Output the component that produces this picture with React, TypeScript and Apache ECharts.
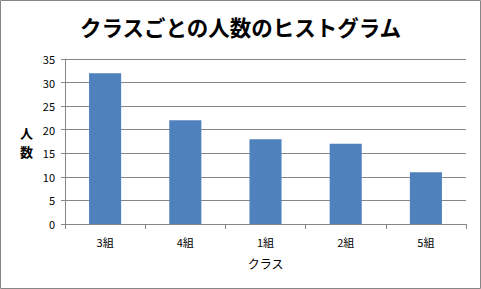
import React, { useEffect, useRef } from "react";
import * as echarts from "echarts";

const categories = ["3組", "4組", "1組", "2組", "5組"];
const counts = [32, 22, 18, 17, 11];
const titleText = "クラスごとの人数のヒストグラム";
const xAxisName = "クラス";
const yAxisName = "人\n数";

export default function App() {
  const ref = useRef<HTMLDivElement>(null);
  useEffect(() => {
    document.body.style.margin = "0";
    const chart = echarts.init(ref.current!, null, { renderer: "svg" });
    const font = "'Noto Sans CJK JP', sans-serif";
    chart.setOption({
      animation: false,
      backgroundColor: "#ffffff",
      textStyle: { fontFamily: font },
      title: {
        text: titleText,
        left: "center",
        top: 11,
        textStyle: { fontSize: 21.5, fontWeight: "bold", color: "#000", fontFamily: font },
      },
      graphic: [
        {
          type: "rect",
          shape: { x: 0.5, y: 0.5, width: 480, height: 288 },
          style: { fill: "none", stroke: "#868686", lineWidth: 1 },
          silent: true,
        },
      ],
      grid: { left: 65, right: 15, top: 59, bottom: 65 },
      xAxis: {
        type: "category",
        data: categories,
        name: xAxisName,
        nameLocation: "middle",
        nameGap: 33,
        nameTextStyle: { fontSize: 12, color: "#000" },
        axisLine: { lineStyle: { color: "#868686" } },
        axisTick: { show: true, length: 5, lineStyle: { color: "#868686" } },
        axisLabel: { fontSize: 11, color: "#000", margin: 12 },
      },
      yAxis: {
        type: "value",
        min: 0,
        max: 35,
        interval: 5,
        name: yAxisName,
        nameLocation: "middle",
        nameRotate: 0,
        nameGap: 32,
        nameTextStyle: { fontSize: 13, fontWeight: "bold", color: "#000", lineHeight: 19 },
        axisLine: { show: true, lineStyle: { color: "#868686" } },
        axisTick: { show: true, length: 4, lineStyle: { color: "#868686" } },
        axisLabel: { fontSize: 11, color: "#000", margin: 10 },
        splitLine: { lineStyle: { color: "#868686" } },
      },
      series: [
        {
          type: "bar",
          data: counts,
          barWidth: "40%",
          itemStyle: { color: "#4F81BD" },
        },
      ],
    });
    return () => chart.dispose();
  }, []);
  return (
    <div
      ref={ref}
      style={{ position: "absolute", left: 0, top: 0, width: 481, height: 289 }}
    />
  );
}
